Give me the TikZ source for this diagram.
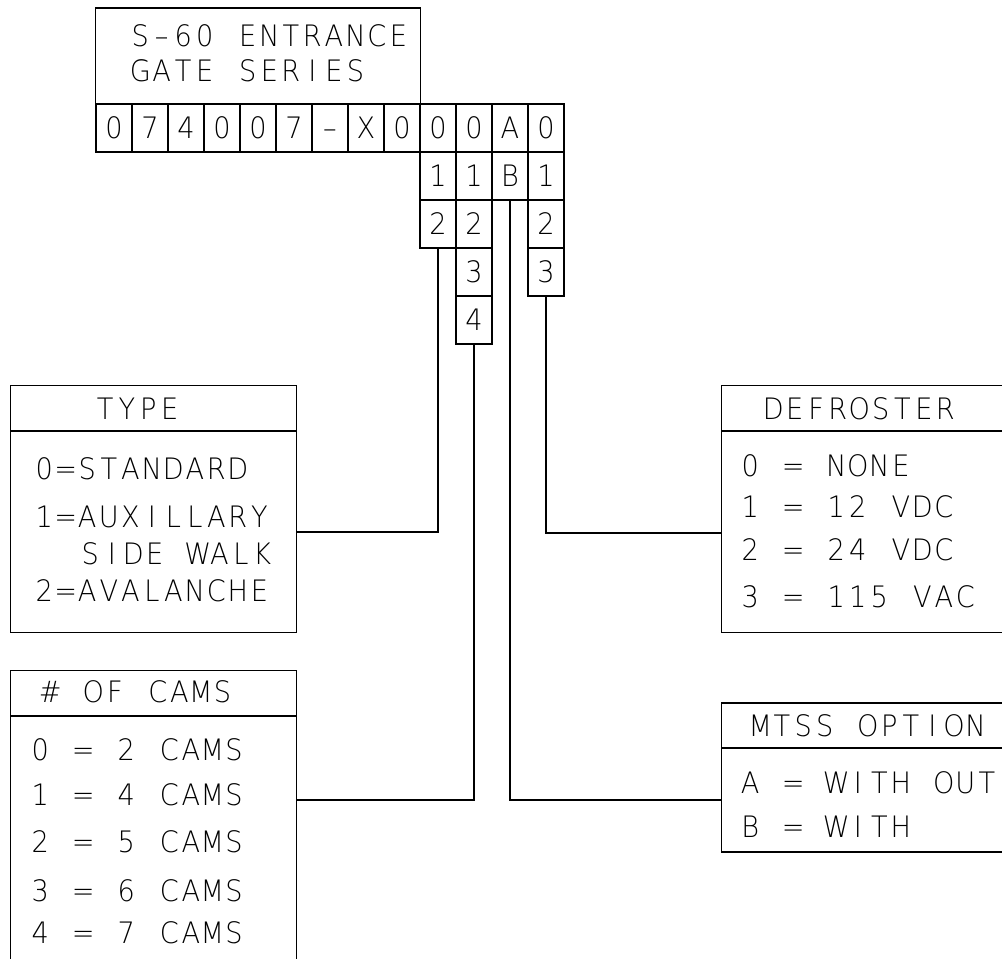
\documentclass[tikz,border=0pt]{standalone}
\usepackage{fontspec}
\newfontfamily\cadfont{DejaVu Sans ExtraLight}[FakeStretch=0.92]
\usetikzlibrary{positioning}

% every character sits in a slot of the same width
\newlength\slotw
\setlength\slotw{15.3pt}
\def\cadtext#1{\cadloop#1\relax}
\def\cadloop#1{\ifx#1\relax\else\makebox[\slotw]{#1}\expandafter\cadloop\fi}

\begin{document}
\begin{tikzpicture}[x=0.025cm, y=-0.025cm, line width=0.75pt,
    codecell/.style={draw, minimum width=0.9cm, minimum height=1.2cm, inner sep=0pt,
        text height=15.4pt, text depth=0pt, font=\cadfont\fontsize{21}{25}\selectfont},
    cadtxt/.style={anchor=west, inner sep=0pt, text height=15.4pt, text depth=0pt,
        font=\cadfont\fontsize{21}{25}\selectfont},
    optbox/.style={draw, inner sep=0pt}]
\useasboundingbox (0,0) rectangle (1002,959);

% part number
\node[optbox, minimum width=8.1cm, minimum height=2.4cm] (title) at (258,56) {};
\node[cadtxt] (title1) at (129,36) {\cadtext{S–60~ENTRANCE}};
\node[cadtxt] (title2) at (129,71) {\cadtext{GATE~SERIES}};
\foreach \ch [count=\i from 0] in {0,7,4,0,0,7,–,X,0,0,0,A,0}
    \node[codecell] (r1c\i) at (114+36*\i,128) {\ch};
\foreach \ch [count=\i from 9] in {1,1,B,1}
    \node[codecell] (r2c\i) at (114+36*\i,176) {\ch};
\node[codecell] (r3c9) at (438,224) {2};
\node[codecell] (r3c10) at (474,224) {2};
\node[codecell] (r3c12) at (546,224) {2};
\node[codecell] (r4c10) at (474,272) {3};
\node[codecell] (r4c12) at (546,272) {3};
\node[codecell] (r5c10) at (474,320) {4};

% option boxes
\node[optbox, minimum width=7.125cm, minimum height=6.15cm] (type) at (153.5,509) {};
\draw (type.west |- 0,431) -- (type.east |- 0,431);
\node[cadtxt] (typehd) at (94,409) {\cadtext{TYPE}};
\node[cadtxt] (type0) at (33,469) {\cadtext{0=STANDARD}};
\node[cadtxt] (type1) at (33,517) {\cadtext{1=AUXILLARY}};
\node[cadtxt] (type1b) at (79,554) {\cadtext{SIDE~WALK}};
\node[cadtxt] (type2) at (33,591) {\cadtext{2=AVALANCHE}};

\node[optbox, minimum width=7.125cm, minimum height=7.6cm] (cams) at (153.5,823) {};
\draw (cams.west |- 0,716) -- (cams.east |- 0,716);
\node[cadtxt] (camshd) at (39,692) {\cadtext{\#~OF~CAMS}};
\node[cadtxt] (cams0) at (29,750) {\cadtext{0~=~2~CAMS}};
\node[cadtxt] (cams1) at (29,795) {\cadtext{1~=~4~CAMS}};
\node[cadtxt] (cams2) at (29,842) {\cadtext{2~=~5~CAMS}};
\node[cadtxt] (cams3) at (29,891) {\cadtext{3~=~6~CAMS}};
\node[cadtxt] (cams4) at (29,933) {\cadtext{4~=~7~CAMS}};

\node[optbox, minimum width=7.25cm, minimum height=6.15cm] (defr) at (867,509) {};
\draw (defr.west |- 0,431) -- (defr.east |- 0,431);
\node[cadtxt] (defrhd) at (762,409) {\cadtext{DEFROSTER}};
\node[cadtxt] (defr0) at (739,466) {\cadtext{0~=~NONE}};
\node[cadtxt] (defr1) at (739,507) {\cadtext{1~=~12~VDC}};
\node[cadtxt] (defr2) at (739,550) {\cadtext{2~=~24~VDC}};
\node[cadtxt] (defr3) at (739,597) {\cadtext{3~=~115~VAC}};

\node[optbox, minimum width=7.25cm, minimum height=3.725cm] (mtss) at (867,777.5) {};
\draw (mtss.west |- 0,748) -- (mtss.east |- 0,748);
\node[cadtxt] (mtsshd) at (749,726) {\cadtext{MTSS~OPTION}};
\node[cadtxt] (mtssa) at (739,783) {\cadtext{A~=~WITH~OUT}};
\node[cadtxt] (mtssb) at (739,827) {\cadtext{B~=~WITH}};

% leaders
\draw (r3c9.south) |- (type.east |- 0,532);
\draw (r5c10.south) |- (cams.east |- 0,800);
\draw (r2c11.south) |- (mtss.west |- 0,800);
\draw (r4c12.south) |- (defr.west |- 0,533);
\end{tikzpicture}
\end{document}
